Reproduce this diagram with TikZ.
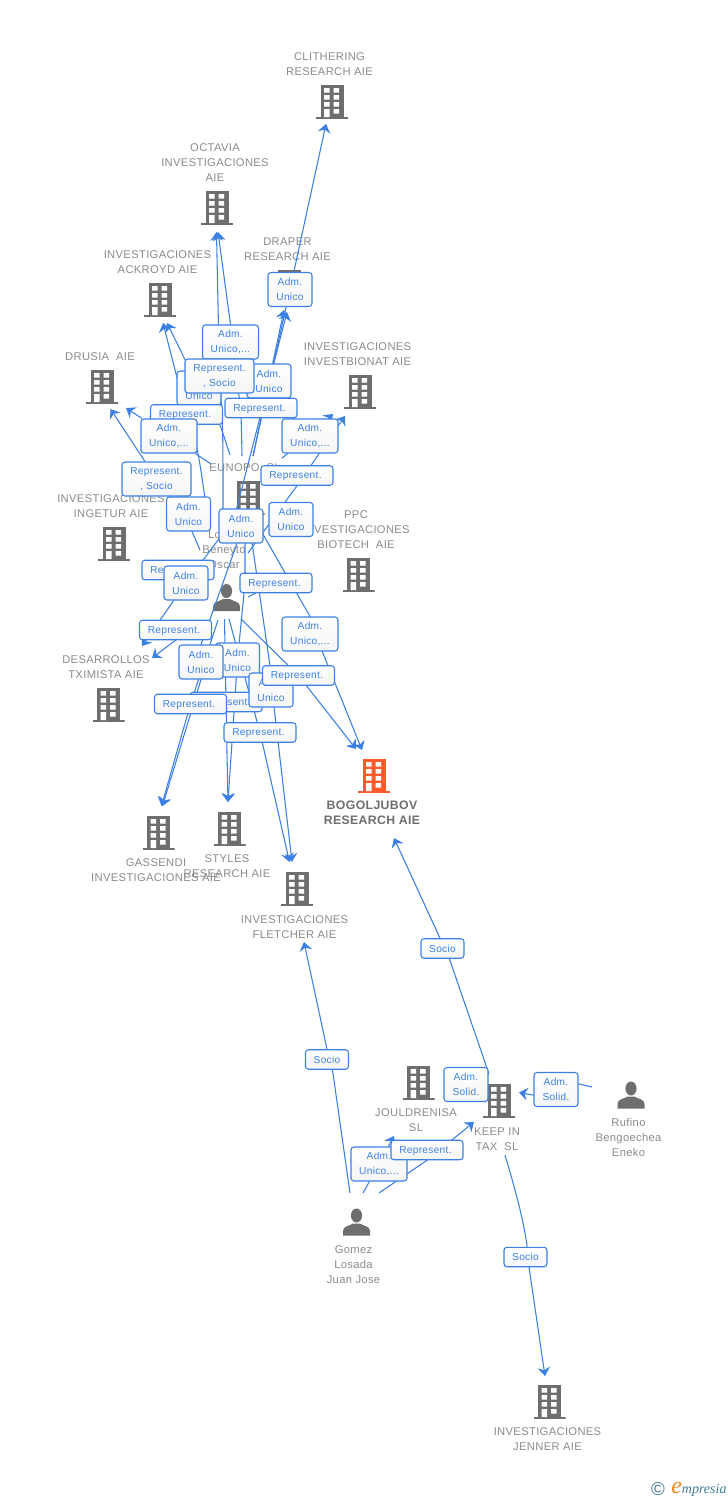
\documentclass[tikz,border=0pt]{standalone}
\usepackage{fontspec}
\setmainfont{Liberation Sans}[LetterSpace=3]
\newfontfamily\logofont{Liberation Serif}
\usetikzlibrary{arrows.meta,positioning}
\pgfdeclarelayer{names}
\pgfdeclarelayer{links}
\pgfsetlayers{names,links,main}
\definecolor{linkblue}{HTML}{3B80E2}
\definecolor{iconGrey}{HTML}{6E6E6E}
\definecolor{iconOrange}{HTML}{FF5A2B}
\definecolor{entityGrey}{HTML}{8A8A8A}
\definecolor{logoTeal}{HTML}{3F7A96}
\definecolor{logoOrange}{HTML}{F08A1D}
\newcommand{\bldgicon}[1]{%
  \begin{scope}[shift={(path picture bounding box.center)}]
    \fill[#1] (-11.5,-17) rectangle (11.5,15);
    \fill[#1] (-16,15) rectangle (16,17);
    \fill[white] (-8,-14) rectangle (-2.5,-9.5) (1.5,-14) rectangle (7,-9.5);
    \fill[white] (-8,-7) rectangle (-2.5,-2.5) (1.5,-7) rectangle (7,-2.5);
    \fill[white] (-8,0) rectangle (-2.5,4.5) (1.5,0) rectangle (7,4.5);
    \fill[white] (-8,7) rectangle (-2.5,15) (1.5,7) rectangle (7,11.5);
  \end{scope}}
\newcommand{\personicon}{%
  \begin{scope}[shift={(path picture bounding box.center)}]
    \fill[iconGrey] (0,-6.5) ellipse [x radius=5.6, y radius=7];
    \fill[iconGrey] (-13.5,13.5) -- (-13.5,9) .. controls (-13.5,4) and (-7,4) .. (-3.5,1.5) -- (3.5,1.5) .. controls (7,4) and (13.5,4) .. (13.5,9) -- (13.5,13.5) -- cycle;
  \end{scope}}
\tikzstyle{building} = [inner sep=0,minimum width=24pt,minimum height=25.5pt,path picture={\bldgicon{iconGrey}}]
\tikzstyle{mainbuilding} = [inner sep=0,minimum width=24pt,minimum height=25.5pt,path picture={\bldgicon{iconOrange}}]
\tikzstyle{person} = [inner sep=0,minimum size=20.25pt,path picture={\personicon}]
\tikzstyle{entity} = [inner sep=0,align=center,text=entityGrey,font=\fontsize{8.4}{11.25}\selectfont]
\tikzstyle{mainentity} = [entity,text=iconGrey,font=\fontsize{9.2}{11.25}\selectfont\bfseries]
\tikzstyle{link} = [-{Stealth[length=6.5pt,width=9.5pt,inset=2.2pt]},linkblue,line width=0.8pt]
\tikzstyle{stub} = [linkblue,line width=0.8pt]
\tikzstyle{tag} = [draw=linkblue,line width=0.8pt,rounded corners=2.2pt,top color=white,bottom color=black!4,inner sep=0,align=center,text=linkblue,font=\fontsize{7.6}{11.25}\selectfont]
\tikzstyle{admtag} = [tag,minimum width=33pt,minimum height=25.5pt]
\tikzstyle{admwide} = [tag,minimum width=42pt,minimum height=25.5pt]
\tikzstyle{reptag} = [tag,minimum width=54pt,minimum height=14.6pt,text depth=0pt]
\tikzstyle{repsocio} = [tag,minimum width=51.75pt,minimum height=25.5pt]
\tikzstyle{sociotag} = [tag,minimum width=32.25pt,minimum height=14.6pt]
\begin{document}
\begin{tikzpicture}[x=0.75pt,y=-0.75pt]
  \useasboundingbox (0,0) rectangle (728,1500);
  % icons and names
  \begin{pgfonlayer}{names}
  \node[building] (clithering) at (332,102) {};
  \node[building] (octavia) at (217,208) {};
  \node[building] (ackroyd) at (160,300) {};
  \node[building] (draper) at (289.5,287) {};
  \node[building] (drusia) at (102,387) {};
  \node[building] (investbionat) at (360,392) {};
  \node[building] (eunopo) at (248.5,498) {};
  \node[building] (ingetur) at (114,544) {};
  \node[building] (ppc) at (358.5,575) {};
  \node[person] (oscar) at (226.5,597.5) {};
  \node[building] (desarrollos) at (108.5,705) {};
  \node[mainbuilding] (bogoljubov) at (374,776) {};
  \node[building] (gassendi) at (158.5,833) {};
  \node[building] (styles) at (229.5,829) {};
  \node[building] (fletcher) at (297,889) {};
  \node[building] (jouldrenisa) at (418.5,1083) {};
  \node[building] (keepin) at (499,1101) {};
  \node[person] (rufino) at (631,1095) {};
  \node[person] (gomez) at (356.5,1222) {};
  \node[building] (jenner) at (549.5,1402) {};
  \node[entity] (txtClithering) at (329.5,64) {CLITHERING\\RESEARCH AIE};
  \node[entity] (txtOctavia) at (215,162.5) {OCTAVIA\\INVESTIGACIONES\\AIE};
  \node[entity] (txtAckroyd) at (157.5,262) {INVESTIGACIONES\\ACKROYD AIE};
  \node[entity] (txtDraper) at (287.5,249) {DRAPER\\RESEARCH AIE};
  \node[entity] (txtDrusia) at (100,356.5) {DRUSIA\ \ AIE};
  \node[entity] (txtInvestbionat) at (357.5,354) {INVESTIGACIONES\\INVESTBIONAT AIE};
  \node[entity] (txtEunopo) at (245,467.5) {EUNOPO\ \ SL};
  \node[entity] (txtIngetur) at (111,506) {INVESTIGACIONES\\INGETUR AIE};
  \node[entity] (txtPpc) at (356,529.5) {PPC\\INVESTIGACIONES\\BIOTECH\ \ AIE};
  \node[entity] (txtOscar) at (224,549.5) {Lopez\\Beneyto\\Oscar};
  \node[entity] (txtDesarrollos) at (106,667) {DESARROLLOS\\TXIMISTA AIE};
  \node[mainentity] (txtBogoljubov) at (372,813) {BOGOLJUBOV\\RESEARCH AIE};
  \node[entity] (txtGassendi) at (156,870) {GASSENDI\\INVESTIGACIONES AIE};
  \node[entity] (txtStyles) at (227,866) {STYLES\\RESEARCH AIE};
  \node[entity] (txtFletcher) at (294.5,927) {INVESTIGACIONES\\FLETCHER AIE};
  \node[entity] (txtJouldrenisa) at (416,1120) {JOULDRENISA\\SL};
  \node[entity] (txtKeepin) at (497,1139) {KEEP IN\\TAX\ \ SL};
  \node[entity] (txtRufino) at (628.5,1137.5) {Rufino\\Bengoechea\\Eneko};
  \node[entity] (txtGomez) at (353.5,1264.5) {Gomez\\Losada\\Juan Jose};
  \node[entity] (txtJenner) at (547.5,1439) {INVESTIGACIONES\\JENNER AIE};
  \end{pgfonlayer}
  % tags, back to front
  \node[admtag] (tDraper) at (290,289.5) {Adm.~\\Unico};
  \node[admwide] (tOctavia) at (230.5,342) {Adm.~\\Unico,...};
  \node[admtag] (tAckroydB) at (199,388) {Adm.~\\Unico};
  \node[admtag] (tDraperB) at (269,381) {Adm.~\\Unico};
  \node[repsocio] (tOctaviaB) at (219.5,376) {Represent.\\, Socio};
  \node[reptag] (tAckroyd) at (186.5,414.5) {Represent.~};
  \node[reptag] (tBiotechA) at (261,408) {Represent.~};
  \node[admwide] (tDrusiaB) at (169,436) {Adm.~\\Unico,...};
  \node[admwide] (tInvest) at (310,436) {Adm.~\\Unico,...};
  \node[reptag] (tInvestB) at (297,475.5) {Represent.~};
  \node[repsocio] (tDrusia) at (156.5,479) {Represent.\\, Socio};
  \node[admtag] (tIngetur) at (188.5,514) {Adm.~\\Unico};
  \node[admtag] (tEunopo) at (241,526) {Adm.~\\Unico};
  \node[admtag] (tBiotechB) at (291,519.5) {Adm.~\\Unico};
  \node[reptag] (tIngeturB) at (178,570) {Represent.~};
  \node[admtag] (tDesarrollosB) at (186,583) {Adm.~\\Unico};
  \node[reptag] (tPpc) at (276,583) {Represent.~};
  \node[reptag] (tDesarrollos) at (175.5,630) {Represent.~};
  \node[admwide] (tBogoljubovB) at (310,634) {Adm.~\\Unico,...};
  \node[admtag] (tStylesB) at (237.5,660) {Adm.~\\Unico};
  \node[admtag] (tGassendi) at (201,662) {Adm.~\\Unico};
  \node[reptag] (tStyles) at (226,702) {Represent.~};
  \node[admtag] (tFletcherB) at (271,690) {Adm.~\\Unico};
  \node[reptag] (tBogoljubov) at (298.5,675.5) {Represent.~};
  \node[reptag] (tGassendiB) at (190.5,704) {Represent.~};
  \node[reptag] (tFletcher) at (260,732.5) {Represent.~};
  \node[sociotag] (tBogoljubovC) at (442.5,948.5) {Socio};
  \node[sociotag] (tFletcherC) at (327,1059.5) {Socio};
  \node[admtag] (tKeepinC) at (466,1084.5) {Adm.~\\Solid.~};
  \node[admtag] (tKeepinB) at (556,1089.5) {Adm.~\\Solid.~};
  \node[admwide] (tJouldrenisa) at (379,1164) {Adm.~\\Unico,...};
  \node[reptag] (tKeepin) at (427,1150) {Represent.~};
  \node[sociotag] (tJenner) at (525.5,1257) {Socio};
  % connector ends
  \coordinate (fromEunopoA) at (253,456);
  \coordinate (fromEunopoB) at (242,456);
  \coordinate (fromEunopoC) at (230,455);
  \coordinate (fromEunopoD) at (211,464);
  \coordinate (fromEunopoE) at (282,458);
  \coordinate (fromEunopoF) at (235,515);
  \coordinate (fromEunopoG) at (233,520);
  \coordinate (fromEunopoH) at (246,518);
  \coordinate (fromEunopoI) at (245,520);
  \coordinate (fromEunopoJ) at (249,522);
  \coordinate (fromEunopoK) at (256,522);
  \coordinate (fromOscarA) at (223,524);
  \coordinate (fromOscarB) at (206,505);
  \coordinate (fromOscarC) at (200,550);
  \coordinate (fromOscarD) at (248,553);
  \coordinate (fromOscarE) at (248,597);
  \coordinate (fromOscarF) at (200,620);
  \coordinate (fromOscarG) at (218,620);
  \coordinate (fromOscarH) at (224.5,619);
  \coordinate (fromOscarI) at (229,619);
  \coordinate (fromOscarJ) at (241,619);
  \coordinate (fromKeepinA) at (489,1074);
  \coordinate (fromKeepinB) at (505,1155);
  \coordinate (fromGomezA) at (350,1193);
  \coordinate (fromGomezB) at (363,1193);
  \coordinate (fromGomezC) at (379,1193);
  \coordinate (fromRufino) at (592,1087);
  \coordinate (toClithering) at (326,124);
  \coordinate (toOctaviaA) at (218,232);
  \coordinate (toOctaviaB) at (216.5,232);
  \coordinate (toAckroydA) at (163,323);
  \coordinate (toAckroydB) at (167,323);
  \coordinate (toDraperA) at (284,310);
  \coordinate (toDraperB) at (287,312);
  \coordinate (toDrusiaA) at (110.5,409);
  \coordinate (toDrusiaB) at (126,408);
  \coordinate (toInvestA) at (333,414);
  \coordinate (toInvestB) at (345,416);
  \coordinate (toDesarrollosA) at (142,646);
  \coordinate (toDesarrollosB) at (152,658);
  \coordinate (toGassendiA) at (162.5,806);
  \coordinate (toGassendiB) at (161.5,806);
  \coordinate (toStyles) at (228,802);
  \coordinate (toFletcherA) at (289.5,862);
  \coordinate (toFletcherB) at (292,862);
  \coordinate (toBogoljubovA) at (356,749);
  \coordinate (toBogoljubovB) at (362,750);
  \coordinate (toBogoljubovC) at (394,838);
  \coordinate (toFletcherC) at (304,942);
  \coordinate (toJouldrenisa) at (394,1136);
  \coordinate (toKeepinA) at (474,1122);
  \coordinate (toKeepinB) at (519,1092.5);
  \coordinate (toJenner) at (545,1376);
  % connectors
  \begin{pgfonlayer}{links}
  \draw[link] (fromEunopoA) -- (tDraper) -- (toClithering);
  \draw[link] (fromEunopoA) -- (tDraperB) -- (toDraperA);
  \draw[link] (fromEunopoF) -- (toDraperB);
  \draw[link] (fromEunopoB) .. controls (241,400) .. (tOctavia.south) -- (tOctavia.north) -- (toOctaviaA);
  \draw[link] (fromOscarA) .. controls (223,430) .. (tOctaviaB) -- (toOctaviaB);
  \draw[link] (fromOscarB) .. controls (198,450) .. (tAckroyd) -- (toAckroydA);
  \draw[link] (fromEunopoC) .. controls (218,418) .. (tAckroydB) -- (toAckroydB);
  \draw[link] (fromOscarC) .. controls (185,515) .. (tDrusia) -- (toDrusiaA);
  \draw[link] (fromEunopoD) -- (tDrusiaB) -- (toDrusiaB);
  \draw[link] (fromEunopoE) -- (tInvest) -- (toInvestA);
  \draw[link] (fromOscarD) -- (tInvestB.south) -- (toInvestB);
  \draw[stub] (fromOscarE) -- (tPpc);
  \draw[link] (fromOscarF) -- (tDesarrollos.south) -- (toDesarrollosB);
  \draw[link] (fromEunopoG) -- (tDesarrollosB) -- (toDesarrollosA);
  \draw[link] (fromEunopoH) -- (tGassendi.north) -- (tGassendi.south) -- (toGassendiA);
  \draw[link] (fromOscarG) -- (tGassendiB) -- (toGassendiB);
  \draw[link] (fromOscarH) -- (tStyles) -- (toStyles);
  \draw[link] (fromEunopoI) -- (tPpc -| fromEunopoI) -- (tStylesB) -- (toStyles);
  \draw[link] (fromOscarI) -- (tFletcher) -- (toFletcherA);
  \draw[link] (fromEunopoJ) -- (tFletcherB.north) -- (tFletcherB.-80) -- (toFletcherB);
  \draw[link] (fromOscarJ) -- (tBogoljubov) -- (toBogoljubovA);
  \draw[link] (fromEunopoK) -- (tBogoljubovB.north) -- (tBogoljubovB.-55) -- (toBogoljubovB);
  \draw[link] (fromKeepinA) -- (tBogoljubovC.-56) -- (toBogoljubovC);
  \draw[link] (fromGomezA) -- (tFletcherC.-62) -- (tFletcherC.north) -- (toFletcherC);
  \draw[link] (fromGomezB) -- (tJouldrenisa) -- (toJouldrenisa);
  \draw[link] (fromGomezC) -- (tKeepin.south) -- (toKeepinA);
  \draw[link] (fromRufino) -- (tKeepinB.14) -- (tKeepinB.194) -- (toKeepinB);
  \draw[link] (fromKeepinB) .. controls (516,1192) and (524,1222) .. (tJenner.81) -- (tJenner.-71) -- (toJenner);
  \end{pgfonlayer}
  % logo
  \node[inner sep=0,text=logoTeal,font=\fontsize{14}{14}\selectfont] (copyrightmark) at (658,1489) {\textcopyright};
  \node[inner sep=0,text=logoTeal,anchor=base west,font=\logofont\itshape\fontsize{10.5}{11}\selectfont] (logoname) at (671,1493) {\textcolor{logoOrange}{\fontsize{18}{18}\selectfont e}mpresia};
\end{tikzpicture}
\end{document}
